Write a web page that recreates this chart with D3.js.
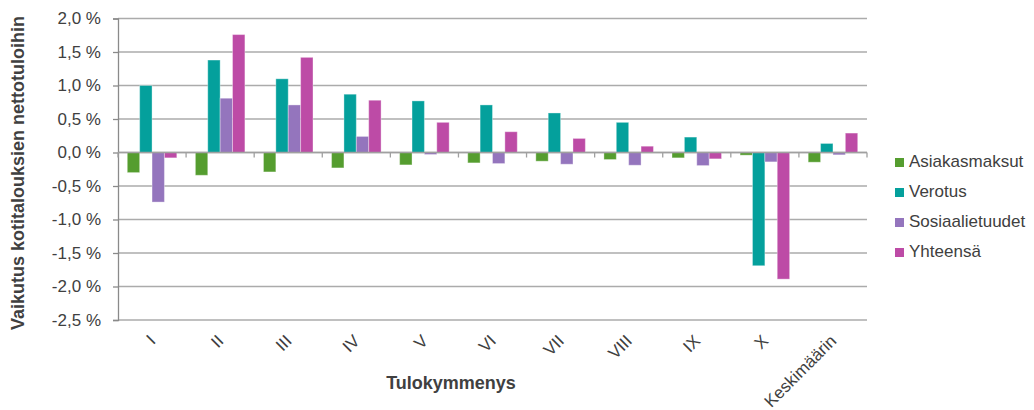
<!DOCTYPE html>
<html>
<head>
<meta charset="utf-8">
<script src="https://cdn.jsdelivr.net/npm/d3@7"></script>
<style>
  html, body { margin: 0; padding: 0; background: #fff; }
  svg { display: block; font-family: "Liberation Sans", Arial, sans-serif; }
</style>
</head>
<body>
<svg id="chart" width="1034" height="410"></svg>
<script>
const categories = ["I", "II", "III", "IV", "V", "VI", "VII", "VIII", "IX", "X", "Keskimäärin"];
const seriesNames = ["Asiakasmaksut", "Verotus", "Sosiaalietuudet", "Yhteensä"];
const asiakasmaksut = [-0.30, -0.34, -0.29, -0.23, -0.185, -0.155, -0.13, -0.105, -0.08, -0.04, -0.145];
const verotus = [1.00, 1.38, 1.10, 0.87, 0.77, 0.71, 0.59, 0.45, 0.23, -1.69, 0.135];
const sosiaalietuudet = [-0.74, 0.81, 0.71, 0.24, -0.03, -0.165, -0.175, -0.19, -0.195, -0.14, -0.035];
const yhteensa = [-0.08, 1.76, 1.42, 0.78, 0.45, 0.31, 0.21, 0.094, -0.095, -1.89, 0.29];
const yTicks = [-2.5, -2.0, -1.5, -1.0, -0.5, 0.0, 0.5, 1.0, 1.5, 2.0];
const yTitle = "Vaikutus kotitalouksien nettotuloihin";
const xTitle = "Tulokymmenys";

const seriesValues = [asiakasmaksut, verotus, sosiaalietuudet, yhteensa];
const colors = ["#559D2F", "#04A09C", "#9475BD", "#BD4BA6"];

const svg = d3.select("#chart");
const pLeft = 118, pRight = 867, pTop = 18.5, pBottom = 320;

const x = d3.scaleBand().domain(categories).range([pLeft, pRight]).padding(0);
const xs = d3.scaleBand().domain(seriesNames).range([0, x.bandwidth()]).paddingInner(0).paddingOuter(0.75);
const y = d3.scaleLinear().domain([-2.5, 2.0]).range([pBottom, pTop]);

const fmt = v => d3.format(".1f")(v).replace("−", "-").replace(".", ",") + " %";

// gridlines
svg.append("g").selectAll("line").data(yTicks).join("line")
  .attr("x1", pLeft).attr("x2", pRight)
  .attr("y1", d => y(d)).attr("y2", d => y(d))
  .attr("stroke", "#ababab").attr("stroke-width", 1.3);

// y axis
const yAxis = svg.append("g").attr("transform", `translate(${pLeft},0)`)
  .call(d3.axisLeft(y).tickValues(yTicks).tickFormat(fmt).tickSize(5).tickPadding(12));
yAxis.select(".domain").attr("stroke", "#8a8a8a").attr("stroke-width", 1.3);
yAxis.selectAll(".tick line").attr("stroke", "#8a8a8a").attr("stroke-width", 1.3);
yAxis.selectAll(".tick text").attr("font-size", 17).attr("fill", "#404040")
  .attr("font-family", "Liberation Sans, Arial, sans-serif");

// bars
const groups = svg.append("g").selectAll("g").data(seriesNames).join("g")
  .attr("fill", (d, i) => colors[i]);
groups.selectAll("rect")
  .data((s, si) => categories.map((c, ci) => ({ c, s, v: seriesValues[si][ci] })))
  .join("rect")
  .attr("x", d => x(d.c) + xs(d.s))
  .attr("width", xs.bandwidth())
  .attr("y", d => Math.min(y(d.v), y(0)))
  .attr("height", d => Math.abs(y(d.v) - y(0)))
  .attr("stroke", "rgba(255,255,255,0.35)").attr("stroke-width", 1);

// x axis at zero
const xAxisG = svg.append("g").attr("transform", `translate(0,${y(0)})`);
xAxisG.append("line").attr("x1", pLeft).attr("x2", pRight).attr("y1", 0).attr("y2", 0)
  .attr("stroke", "#a0a0a0").attr("stroke-width", 1.3);
const boundaries = categories.map(c => x(c)).concat([pRight]);
xAxisG.selectAll("line.tk").data(boundaries).join("line").attr("class", "tk")
  .attr("x1", d => d).attr("x2", d => d).attr("y1", 0).attr("y2", 5)
  .attr("stroke", "#a0a0a0").attr("stroke-width", 1.3);

// x labels
svg.append("g").selectAll("text").data(categories).join("text")
  .attr("transform", d => `translate(${x(d) + x.bandwidth() / 2 + 4.5},342) rotate(-45)`)
  .attr("text-anchor", "end")
  .attr("font-size", 17).attr("fill", "#404040")
  .text(d => d);

// axis titles
svg.append("text")
  .attr("transform", `translate(24,173) rotate(-90)`)
  .attr("text-anchor", "middle").attr("font-size", 18).attr("font-weight", "bold").attr("fill", "#404040")
  .text(yTitle);
svg.append("text")
  .attr("x", 451).attr("y", 389)
  .attr("text-anchor", "middle").attr("font-size", 18).attr("font-weight", "bold").attr("fill", "#404040")
  .text(xTitle);

// legend
const lg = svg.append("g").selectAll("g").data(seriesNames).join("g")
  .attr("transform", (d, i) => `translate(895,${167 + i * 30})`);
lg.append("rect").attr("x", 0).attr("y", -9).attr("width", 9).attr("height", 9)
  .attr("fill", (d, i) => colors[i]);
lg.append("text").attr("x", 14).attr("y", 0).attr("font-size", 17).attr("fill", "#404040")
  .text(d => d);
</script>
</body>
</html>
